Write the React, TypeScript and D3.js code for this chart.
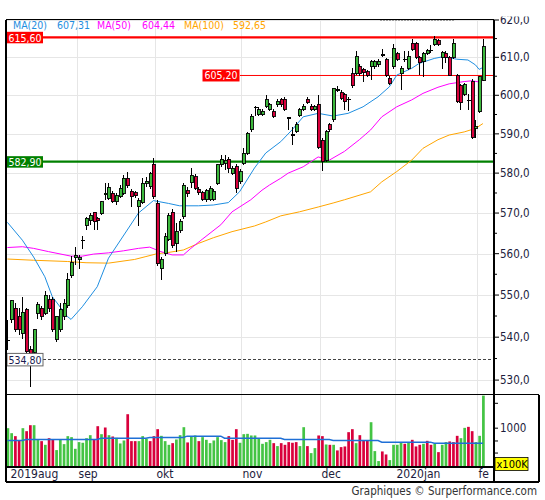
import * as d3 from 'd3';

// daily candles, Aug 2019 - Feb 2020
const opens = [
  539.2, 544.1, 546.8, 544.9, 540.9, 546.5, 537.0, 536.5, 545.6, 546.8,
  545.6, 548.9, 548.9, 539.5, 541.7, 544.9, 547.4, 554.6, 559.0, 558.5,
  563.2, 567.0, 568.1, 570.2, 568.7, 569.8, 574.5, 573.7, 574.9, 572.8,
  574.1, 574.9, 578.7, 575.5, 575.1, 571.6, 572.6, 577.4, 576.6, 582.3,
  572.4, 556.3, 560.1, 563.4, 570.2, 562.5, 565.8, 569.1, 575.6, 577.6,
  579.1, 575.9, 575.1, 573.3, 573.3, 573.4, 577.3, 582.1, 582.5, 583.5,
  580.0, 581.6, 577.8, 582.5, 585.0, 591.0, 596.8, 594.9, 594.9, 597.2,
  596.2, 595.7, 597.5, 598.9, 598.9, 594.1, 589.7, 590.6, 594.7, 596.2,
  599.0, 597.2, 596.2, 597.7, 588.4, 583.3, 592.3, 593.6, 601.4, 600.7,
  600.1, 598.8, 605.7, 605.6, 607.7, 606.8, 606.2, 607.5, 607.6, 608.1,
  610.6, 609.3, 604.5, 607.5, 610.9, 605.6, 609.5, 607.1, 613.8, 613.8,
  610.0, 608.8, 611.1, 611.8, 613.3, 614.4, 610.0, 611.1, 610.0, 610.0,
  605.3, 602.5, 600.3, 598.6, 603.6, 591.4, 595.7, 604.0,
];
const highs = [
  544.0, 548.8, 548.1, 547.0, 549.5, 547.0, 538.0, 542.0, 548.4, 547.5,
  550.9, 550.0, 549.5, 545.0, 548.1, 549.0, 555.4, 559.5, 561.7, 559.6,
  564.3, 569.1, 569.9, 570.3, 569.1, 573.0, 577.4, 577.4, 575.5, 574.9,
  577.0, 579.5, 580.2, 576.0, 575.6, 573.7, 578.7, 579.1, 580.4, 583.9,
  573.2, 559.3, 565.0, 570.0, 571.0, 567.5, 568.5, 577.5, 576.5, 581.3,
  579.9, 576.5, 575.6, 576.0, 576.8, 576.0, 582.4, 584.7, 584.7, 584.1,
  581.8, 582.2, 581.0, 586.4, 590.5, 595.2, 597.2, 597.0, 596.5, 600.1,
  598.0, 596.3, 599.0, 599.3, 599.5, 594.4, 591.8, 593.1, 596.6, 597.6,
  599.6, 597.6, 597.4, 600.1, 589.0, 591.0, 592.8, 602.0, 602.3, 601.3,
  600.5, 599.6, 607.1, 611.8, 608.3, 607.3, 606.6, 609.3, 609.3, 609.5,
  612.1, 609.8, 605.0, 613.5, 611.5, 607.6, 611.6, 611.6, 614.8, 614.2,
  610.4, 611.5, 612.3, 613.3, 615.6, 615.0, 611.8, 611.6, 610.3, 614.8,
  605.7, 603.0, 603.2, 600.4, 604.2, 593.7, 605.0, 614.8,
];
const lows = [
  537.0, 543.3, 541.3, 540.5, 539.5, 535.5, 528.3, 536.0, 544.3, 544.0,
  545.2, 546.0, 541.3, 538.8, 541.3, 544.0, 547.0, 554.2, 557.3, 556.2,
  561.1, 565.8, 567.0, 565.8, 565.8, 569.5, 573.3, 573.3, 572.5, 572.0,
  573.8, 574.5, 576.3, 571.6, 573.8, 566.8, 572.3, 576.4, 576.0, 573.5,
  557.0, 553.6, 559.5, 563.0, 561.5, 560.5, 565.0, 568.5, 574.0, 576.3,
  575.8, 574.5, 573.0, 572.8, 573.0, 573.0, 577.0, 581.5, 580.8, 580.0,
  579.5, 575.1, 577.3, 582.0, 584.5, 590.5, 594.6, 594.5, 594.5, 596.8,
  595.8, 594.0, 597.0, 597.0, 596.0, 591.0, 587.2, 590.2, 594.3, 595.8,
  597.6, 595.8, 595.8, 586.0, 580.6, 582.8, 590.5, 593.0, 600.8, 598.8,
  596.2, 595.8, 602.0, 605.2, 605.0, 603.6, 604.8, 604.0, 607.0, 607.5,
  610.0, 604.8, 602.6, 607.0, 609.0, 601.4, 608.8, 606.6, 611.8, 609.6,
  605.3, 604.9, 610.7, 611.1, 612.9, 613.0, 606.8, 608.5, 605.0, 609.6,
  597.9, 596.2, 599.8, 596.2, 588.7, 588.9, 595.5, 603.8,
];
const closes = [
  539.2, 548.6, 541.7, 541.9, 545.9, 536.6, 536.0, 541.7, 547.7, 544.9,
  550.0, 546.8, 541.7, 544.9, 546.5, 548.1, 553.8, 557.8, 559.5, 559.0,
  563.2, 568.7, 569.5, 567.9, 568.1, 572.8, 574.9, 576.4, 572.8, 574.3,
  576.2, 578.7, 576.8, 574.1, 574.3, 573.0, 577.4, 578.0, 579.8, 574.1,
  557.6, 558.5, 564.2, 569.3, 562.1, 565.4, 568.0, 577.0, 574.8, 579.5,
  576.2, 575.1, 573.4, 575.6, 576.1, 575.5, 582.1, 583.5, 583.3, 581.2,
  581.2, 576.2, 580.4, 585.0, 590.1, 594.6, 596.8, 596.2, 595.9, 598.8,
  597.5, 594.6, 598.5, 597.5, 596.3, 594.1, 589.7, 592.3, 596.2, 597.2,
  598.0, 596.2, 597.0, 586.6, 582.9, 590.6, 591.0, 601.8, 601.4, 599.2,
  598.3, 598.8, 602.5, 610.2, 605.6, 605.9, 605.3, 608.8, 608.8, 609.0,
  610.6, 605.3, 603.1, 612.4, 609.5, 607.1, 609.5, 610.2, 612.2, 610.0,
  608.6, 611.1, 611.8, 611.8, 614.8, 613.5, 611.4, 610.0, 605.3, 613.8,
  598.3, 598.1, 602.7, 598.6, 589.1, 591.8, 604.9, 612.8,
];

// volume in units of 100K shares
const volumes = [
  1000, 870, 801, 710, 1000, 920, 1087, 1087, 723, 697,
  629, 757, 723, 543, 723, 641, 801, 779, 563, 678,
  666, 757, 823, 723, 1057, 846, 1019, 823, 793, 764,
  653, 710, 1476, 697, 697, 697, 801, 744, 697, 801,
  973, 808, 697, 629, 659, 730, 823, 1028, 672, 786,
  816, 697, 779, 723, 659, 710, 779, 717, 678, 801,
  723, 973, 666, 846, 854, 816, 816, 744, 647, 678,
  723, 659, 607, 659, 629, 678, 666, 678, 607, 1028,
  607, 499, 574, 816, 801, 635, 629, 629, 538, 590,
  601, 895, 973, 659, 823, 710, 710, 1181, 528, 400,
  523, 481, 411, 629, 629, 678, 647, 678, 723, 601,
  629, 647, 703, 629, 647, 513, 629, 678, 691, 678,
  808, 757, 1009, 1038, 920, 678, 808, 2477,
];
// g = up day, r = down day
const volumeDir =
  'ggrrgrrggr' + 'grrggggggg' + 'gggrrgrgrg' + 'ggrrrgggrr' + 'rgggrgggrg' + 'grgggggggr' + 'rrggg' +
  'ggggggrg' + 'rrrrrggrgg' + 'rrgrgrrrrr' + 'grrrgggrrg' + 'gggrgrrrgr' + 'rgrggrrrgg' + 'rrggg';

// moving averages read at [candle index, value]
const ma20: [number, number][] = [
  [0, 567.7], [4, 563.3], [7, 559.2], [10, 554.4], [12, 549.6], [16, 544.9], [17, 544.2], [20, 547.2],
  [24, 552.0], [27, 558.9], [32, 565.8], [35, 570.0], [39, 573.1], [43, 572.4], [46, 571.8], [51, 571.8],
  [55, 572.0], [59, 572.6], [62, 575.3], [66, 581.3], [69, 585.1], [73, 588.0], [76, 591.0], [79, 594.4],
  [83, 595.3], [87, 594.6], [91, 595.3], [95, 597.0], [99, 599.6], [102, 602.2], [104, 605.3], [108, 607.1],
  [110, 608.4], [114, 609.7], [116, 610.1], [118, 609.9], [120, 609.5], [123, 609.3], [125, 608.0],
  [126, 606.8], [127, 607.31],
];
const ma50: [number, number][] = [
  [0, 561.5], [4, 561.7], [7, 561.3], [11, 560.5], [17, 559.4], [20, 559.4], [23, 559.9], [27, 560.2],
  [31, 560.7], [35, 561.3], [38, 561.6], [41, 560.5], [44, 559.7], [47, 559.7], [49, 561.3], [52, 563.5],
  [57, 567.1], [60, 570.3], [65, 573.3], [68, 575.7], [70, 577.0], [73, 578.7], [75, 580.0], [79, 581.6],
  [83, 584.1], [86, 583.3], [90, 585.5], [94, 588.5], [97, 591.0], [100, 594.4], [104, 597.0], [108, 598.8],
  [111, 600.5], [115, 602.1], [118, 603.0], [122, 603.6], [124, 603.8], [126, 603.5], [127, 604.44],
];
const ma100: [number, number][] = [
  [0, 558.7], [7, 558.4], [16, 558.1], [21, 557.8], [27, 557.7], [34, 558.6], [37, 559.3], [40, 560.0],
  [43, 560.3], [47, 560.9], [51, 562.5], [55, 563.9], [60, 565.4], [66, 566.8], [69, 567.8], [73, 569.3],
  [78, 570.3], [83, 571.5], [87, 572.5], [90, 573.3], [97, 575.3], [100, 577.8], [104, 580.4], [108, 583.3],
  [111, 586.3], [115, 588.5], [118, 589.7], [122, 590.5], [125, 591.4], [127, 592.65],
];
const volumeMa: [number, number][] = [
  [0, 710], [4, 710], [5, 730], [24, 730], [25, 757], [37, 757], [38, 772], [47, 772], [48, 801], [57, 801],
  [58, 757], [73, 757], [74, 730], [86, 730], [87, 710], [99, 710], [100, 678], [113, 678], [114, 659], [127, 659],
];

const monthStarts = [0, 19, 40, 63, 84, 104, 126];
const monthLabels = ['2019aug', 'sep', 'okt', 'nov', 'dec', '2020jan', 'fe'];
const priceTicks = [530, 540, 550, 560, 570, 580, 590, 600, 610, 620];
const priceMinorTicks = [535, 545, 555, 565, 575, 585, 595, 605, 615];
const volumeTicks = [500, 700, 1000, 2000];
const volumeLabels = [1000];
const legendNames = ['MA(20)', 'MA(50)', 'MA(100)'];
const legendValues = [607.31, 604.44, 592.65];
const resistanceHigh = 615.6;
const resistanceLow = 605.2;
const supportLevel = 582.9;
const periodLow = 534.8;

const FONT = '"DejaVu Sans Condensed", "Liberation Sans", sans-serif';
const GREEN = '#3cb83c';
const RED = '#d9003c';
const MA_COLORS = ['#1f8ee0', '#ff00ff', '#ffa500'];

export default function App() {
  const left = 6, right = 494, top = 19.5, priceBottom = 394.5, volBottom = 467, axisBottom = 482, outerRight = 539;

  const x = d3.scaleLinear().domain([0, 127]).range([7.4, 482.9]);
  const y = d3.scaleLog().domain([530, 620]).range([380.1, 20]);
  const yv = d3.scaleLog().domain([339, 2500]).range([volBottom, 395.3]);

  const fmt1 = (v: number) => d3.format('.1f')(v).replace('.', ',');
  const fmt2 = (v: number) => d3.format('.2f')(v).replace('.', ',');

  const maLine = d3.line<[number, number]>().x(d => x(d[0])).y(d => y(d[1]));
  const volLine = d3.line<[number, number]>().x(d => x(d[0])).y(d => yv(d[1]));

  const gridX = monthStarts.slice(1).map(i => Math.round(x(i - 0.5)) + 0.5);
  const legendX = [13, 97, 184];
  const legendValueX = [57, 142, 233];

  return (
    <div style={{ position: 'absolute', left: 0, top: 0 }}>
      <svg width={545} height={500} style={{ display: 'block', background: '#fff' }} fontFamily={FONT}>
        <defs>
          <clipPath id="price-clip">
            <rect x={left} y={top} width={right - left} height={priceBottom - top} />
          </clipPath>
          <clipPath id="vol-clip">
            <rect x={left} y={priceBottom} width={right - left} height={volBottom - priceBottom} />
          </clipPath>
          <clipPath id="axis-clip">
            <rect x={0} y={16.5} width={545} height={480} />
          </clipPath>
        </defs>

        {/* grid */}
        <g stroke="#e6e6e6" strokeWidth={1} shapeRendering="crispEdges">
          {priceTicks.map(t => (
            <line key={t} x1={left} x2={right} y1={Math.round(y(t)) + 0.5} y2={Math.round(y(t)) + 0.5} />
          ))}
          {gridX.map((gx, k) => (
            <line key={k} x1={gx} x2={gx} y1={top} y2={volBottom} />
          ))}
        </g>

        {/* support / resistance */}
        <line x1={left} x2={right} y1={y(resistanceHigh) + 1} y2={y(resistanceHigh) + 1} stroke="#ff0000" strokeWidth={2.2} />
        <line x1={240} x2={right} y1={y(resistanceLow)} y2={y(resistanceLow)} stroke="#ff0000" strokeWidth={1} />
        <line x1={left} x2={right} y1={y(supportLevel)} y2={y(supportLevel)} stroke="#008000" strokeWidth={2.2} />
        <line x1={43} x2={right} y1={Math.round(y(periodLow)) + 0.5} y2={Math.round(y(periodLow)) + 0.5}
          stroke="#444" strokeWidth={1} strokeDasharray="3,2" />
        <line x1={380} x2={455} y1={top + 0.5} y2={top + 0.5} stroke="#555" strokeWidth={1} strokeDasharray="2,1" />

        {/* moving averages */}
        <g clipPath="url(#price-clip)" fill="none" strokeWidth={1}>
          <path d={maLine(ma100) ?? ''} stroke={MA_COLORS[2]} />
          <path d={maLine(ma50) ?? ''} stroke={MA_COLORS[1]} />
          <path d={maLine(ma20) ?? ''} stroke={MA_COLORS[0]} />
        </g>

        {/* candles */}
        <g clipPath="url(#price-clip)" shapeRendering="crispEdges">
          {opens.map((o, i) => {
            const c = closes[i];
            const cx = Math.round(x(i)) + 0.5;
            const doji = Math.abs(o - c) < 0.05;
            const yTop = y(Math.max(o, c));
            const yBot = y(Math.min(o, c));
            return (
              <g key={i}>
                <line x1={cx} x2={cx} y1={y(highs[i])} y2={y(lows[i])} stroke="#000" strokeWidth={1} />
                {doji ? (
                  <line x1={cx - 2} x2={cx + 2} y1={yTop} y2={yTop} stroke="#000" strokeWidth={1.2} />
                ) : (
                  <rect x={cx - 1.5} y={yTop} width={3} height={Math.max(1, yBot - yTop)}
                    fill={c > o ? GREEN : RED} stroke="#000" strokeWidth={0.9} />
                )}
              </g>
            );
          })}
        </g>

        {/* legend */}
        <g fontSize={10.5}>
          {legendNames.map((n, k) => (
            <g key={n} fill={MA_COLORS[k]}>
              <text x={legendX[k]} y={29}>{n}</text>
              <text x={legendValueX[k]} y={29}>{fmt2(legendValues[k])}</text>
            </g>
          ))}
        </g>

        {/* level labels */}
        <g fontSize={10.5}>
          <rect x={7} y={31.8} width={36} height={11.5} fill="#ff0000" />
          <text x={25} y={41.5} textAnchor="middle" fill="#fff">{fmt2(resistanceHigh)}</text>
          <rect x={202.5} y={y(resistanceLow) - 6} width={37} height={12} fill="#ff0000" />
          <text x={221} y={y(resistanceLow) + 4} textAnchor="middle" fill="#fff">{fmt2(resistanceLow)}</text>
          <rect x={7} y={y(supportLevel) - 5.5} width={36} height={11.5} fill="#008000" />
          <text x={25} y={y(supportLevel) + 4} textAnchor="middle" fill="#fff">{fmt2(supportLevel)}</text>
          <rect x={7} y={y(periodLow) - 6} width={36} height={12.5} fill="#fff" stroke="#666" strokeWidth={1} />
          <text x={25} y={y(periodLow) + 4.5} textAnchor="middle" fill="#1a1a50">{fmt2(periodLow)}</text>
        </g>

        {/* volume */}
        <g clipPath="url(#vol-clip)">
          {volumes.map((v, i) => (
            <rect key={i} x={x(i) - 0.85} width={2.7} y={yv(v)} height={volBottom - yv(v)}
              fill={volumeDir[i] === 'g' ? '#44c444' : RED} />
          ))}
          <path d={volLine(volumeMa) ?? ''} fill="none" stroke="#1f6fd6" strokeWidth={1.5} />
        </g>

        {/* frames */}
        <g stroke="#000" strokeWidth={1.2} fill="none" shapeRendering="crispEdges">
          <line x1={left} x2={right} y1={top} y2={top} />
          <line x1={left} x2={left} y1={top} y2={axisBottom} />
          <line x1={right} x2={right} y1={top} y2={axisBottom} />
          <line x1={left} x2={outerRight} y1={priceBottom} y2={priceBottom} />
          <line x1={left} x2={right} y1={volBottom} y2={volBottom} />
          <line x1={left} x2={outerRight} y1={axisBottom} y2={axisBottom} />
          <line x1={outerRight} x2={outerRight} y1={priceBottom} y2={axisBottom} />
        </g>

        {/* price axis */}
        <g clipPath="url(#axis-clip)" fontSize={11.5} fill="#1c1c3c">
          {priceTicks.map(t => (
            <g key={t}>
              <line x1={right} x2={right + 5} y1={y(t)} y2={y(t)} stroke="#000" />
              <text x={right + 6} y={y(t) + 4}>{fmt1(t)}</text>
            </g>
          ))}
          {priceMinorTicks.map(t => (
            <line key={t} x1={right} x2={right + 3} y1={y(t)} y2={y(t)} stroke="#000" />
          ))}
        </g>

        {/* volume axis */}
        <g fontSize={11.5} fill="#1c1c3c">
          {volumeTicks.map(t => (
            <line key={t} x1={right} x2={right + 4} y1={yv(t)} y2={yv(t)} stroke="#000" />
          ))}
          {volumeLabels.map(t => (
            <text key={t} x={right + 6} y={yv(t) + 4}>{t}</text>
          ))}
          <rect x={495} y={457.5} width={33} height={13} fill="#ffff00" stroke="#000" strokeWidth={0.8} />
          <text x={496.5} y={468} fontSize={11} fill="#000">x100K</text>
        </g>

        {/* month labels */}
        <g fontSize={12} fill="#1c1c3c">
          {monthStarts.map((i, k) => (
            <text key={k} x={k === 0 ? 10.5 : Math.round(x(i - 0.5)) + 1.5} y={478}>{monthLabels[k]}</text>
          ))}
        </g>

        <text x={537} y={495} textAnchor="end" fontSize={11.5} fill="#333">Graphiques © Surperformance.com</text>
      </svg>
    </div>
  );
}
